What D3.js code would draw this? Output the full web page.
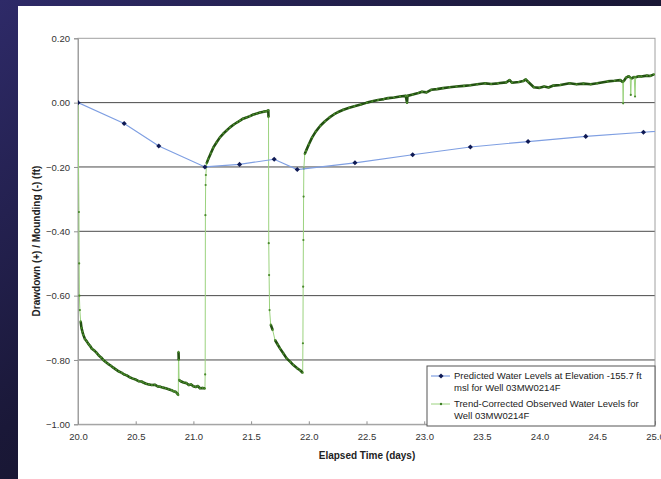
<!DOCTYPE html>
<html><head><meta charset="utf-8">
<script src="https://cdn.jsdelivr.net/npm/d3@7"></script>
<style>html,body{margin:0;padding:0;background:#141320;}svg{display:block;}</style>
</head><body>
<svg id="chart" width="661" height="479"></svg>
<script>
// ---- data ----
const xTicks = [20.0,20.5,21.0,21.5,22.0,22.5,23.0,23.5,24.0,24.5,25.0];
const yTicks = [0.20,0.00,-0.20,-0.40,-0.60,-0.80,-1.00];
const predT = [20.0,20.4,20.7,21.1,21.4,21.7,21.9,22.4,22.9,23.4,23.9,24.4,24.9,25.4];
const predV = [0.000,-0.065,-0.135,-0.200,-0.192,-0.176,-0.208,-0.187,-0.162,-0.138,-0.121,-0.105,-0.092,-0.079];
const obsT = [20.000,20.008,20.010,20.012,20.016,
 20.023,20.030,20.038,20.046,20.060,20.075,20.090,20.104,20.120,20.140,20.162,20.180,20.200,20.219,20.240,20.260,20.285,20.306,20.330,20.355,20.380,20.400,20.422,20.450,20.475,20.500,20.525,20.550,20.566,20.590,20.615,20.640,20.665,20.690,20.711,20.735,20.760,20.785,20.810,20.826,20.845,20.860,20.869,
 20.871,20.873,20.876,
 20.890,20.915,20.940,20.960,20.980,21.000,21.020,21.040,21.057,21.080,21.100,
 21.102,21.104,21.106,21.108,
 21.115,21.129,21.150,21.172,21.200,21.230,21.260,21.290,21.317,21.350,21.380,21.404,21.430,21.460,21.490,21.520,21.550,21.577,21.610,21.630,21.649,
 21.651,21.653,21.656,21.660,
 21.670,21.687,21.707,21.730,21.750,21.780,21.808,21.840,21.866,21.900,21.925,21.947,
 21.949,21.951,21.953,21.955,21.957,
 21.965,21.976,22.000,22.029,22.060,22.100,22.140,22.180,22.220,22.250,22.300,22.350,22.395,22.450,22.504,22.550,22.600,22.650,22.688,22.740,22.790,22.840,22.851,22.855,22.900,22.950,22.981,23.020,23.060,23.110,23.163,23.220,23.280,23.345,23.400,23.460,23.529,23.580,23.640,23.711,23.740,23.760,23.820,23.858,23.880,23.900,23.950,24.000,24.040,24.077,24.120,24.180,24.260,24.320,24.380,24.443,24.500,24.589,24.650,24.699,24.720,24.724,24.728,24.750,24.772,24.785,24.790,24.795,24.820,24.827,24.832,24.860,24.882,24.930,24.960,24.991];
const obsV = [0.000,-0.340,-0.500,-0.600,-0.645,
 -0.680,-0.700,-0.712,-0.722,-0.735,-0.742,-0.750,-0.756,-0.765,-0.770,-0.778,-0.786,-0.792,-0.800,-0.806,-0.812,-0.818,-0.824,-0.830,-0.836,-0.840,-0.845,-0.848,-0.854,-0.858,-0.861,-0.866,-0.867,-0.870,-0.874,-0.876,-0.878,-0.877,-0.882,-0.883,-0.886,-0.888,-0.891,-0.894,-0.897,-0.899,-0.904,-0.909,
 -0.775,-0.800,-0.862,
 -0.866,-0.870,-0.872,-0.878,-0.876,-0.882,-0.884,-0.881,-0.888,-0.887,-0.889,
 -0.845,-0.350,-0.256,-0.225,
 -0.189,-0.175,-0.158,-0.140,-0.124,-0.108,-0.096,-0.086,-0.077,-0.068,-0.061,-0.056,-0.050,-0.046,-0.042,-0.037,-0.034,-0.031,-0.028,-0.027,-0.024,
 -0.045,-0.437,-0.536,-0.645,
 -0.690,-0.707,-0.738,-0.752,-0.764,-0.780,-0.795,-0.806,-0.816,-0.826,-0.832,-0.840,
 -0.748,-0.572,-0.427,-0.292,-0.205,
 -0.160,-0.150,-0.130,-0.108,-0.090,-0.072,-0.058,-0.046,-0.036,-0.030,-0.022,-0.016,-0.011,-0.006,0.000,0.004,0.008,0.011,0.014,0.016,0.019,0.021,0.000,0.021,0.025,0.030,0.034,0.032,0.040,0.042,0.045,0.048,0.050,0.052,0.054,0.057,0.060,0.058,0.060,0.063,0.070,0.062,0.064,0.067,0.072,0.065,0.048,0.046,0.050,0.047,0.053,0.055,0.060,0.057,0.059,0.057,0.060,0.066,0.068,0.070,0.064,-0.002,0.066,0.078,0.082,0.078,0.024,0.075,0.080,0.019,0.079,0.082,0.081,0.084,0.083,0.088];
const legendLines = [
  ["Predicted Water Levels at Elevation -155.7 ft","msl for Well 03MW0214F"],
  ["Trend-Corrected Observed Water Levels for","Well 03MW0214F"]
];

// ---- drawing ----
const svg = d3.select("#chart");
const defs = svg.append("defs");
const bg = defs.append("linearGradient").attr("id","bg").attr("x1","0").attr("y1","0").attr("x2","1").attr("y2","1");
bg.append("stop").attr("offset","0%").attr("stop-color","#2e2a68");
bg.append("stop").attr("offset","45%").attr("stop-color","#1a1838");
bg.append("stop").attr("offset","100%").attr("stop-color","#0e0e14");
svg.append("rect").attr("width",661).attr("height",479).attr("fill","url(#bg)");
svg.append("rect").attr("x",18).attr("y",6).attr("width",643).attr("height",473).attr("fill","#ffffff");

const x = d3.scaleLinear().domain([20,25]).range([78,655]);
const y = d3.scaleLinear().domain([-1,0.2]).range([424.3,38.3]);

defs.append("clipPath").attr("id","plotclip").append("rect")
  .attr("x",x(20)).attr("y",y(0.2)-2).attr("width",x(25)-x(20)).attr("height",y(-1)-y(0.2)+4);

// gridlines
svg.append("g").selectAll("line").data(yTicks.filter(v=>v<0.19 && v>-0.99)).join("line")
  .attr("x1",x(20)).attr("x2",x(25)).attr("y1",d=>y(d)).attr("y2",d=>y(d))
  .attr("stroke","#4a4a4a").attr("stroke-width",1);
// frame
svg.append("rect").attr("x",x(20)).attr("y",y(0.2)).attr("width",x(25)-x(20)).attr("height",y(-1)-y(0.2))
  .attr("fill","none").attr("stroke","#a0a0a0").attr("stroke-width",1);

// axes
const yAxis = d3.axisLeft(y).tickValues(yTicks).tickFormat(d3.format(".2f")).tickSize(4).tickPadding(4);
const gy = svg.append("g").attr("transform",`translate(${x(20)},0)`).call(yAxis);
const xAxis = d3.axisBottom(x).tickValues(xTicks).tickFormat(d3.format(".1f")).tickSize(-3).tickPadding(9);
const gx = svg.append("g").attr("transform",`translate(0,${y(-1)})`).call(xAxis);
[gx,gy].forEach(g=>{
  g.select(".domain").attr("stroke","#a0a0a0");
  g.selectAll(".tick line").attr("stroke","#909090");
  g.selectAll(".tick text").attr("fill","#333").style("font-family","'Liberation Sans',Arial,sans-serif").style("font-size","9.5px");
});
gy.selectAll(".tick text").attr("dy","0.34em");

// titles
svg.append("text").attr("x",367).attr("y",459).attr("text-anchor","middle")
  .style("font-family","'Liberation Sans',Arial,sans-serif").style("font-size","10px").style("font-weight","bold").attr("fill","#222")
  .text("Elapsed Time (days)");
svg.append("text").attr("transform","translate(40,241) rotate(-90)").attr("text-anchor","middle")
  .style("font-family","'Liberation Sans',Arial,sans-serif").style("font-size","10px").style("font-weight","bold").attr("fill","#222")
  .text("Drawdown (+) / Mounding (-) (ft)");

// series
const plot = svg.append("g").attr("clip-path","url(#plotclip)");
const obs = obsT.map((t,i)=>[t,obsV[i]]);
const line = d3.line().x(d=>x(d[0])).y(d=>y(d[1]));
plot.append("path").datum(obs).attr("d",line).attr("fill","none").attr("stroke","#9bd27e").attr("stroke-width",1);
const segs = []; let cur = [obs[0]];
for (let i=1;i<obs.length;i++){
  if (Math.abs(obs[i][1]-obs[i-1][1]) > 0.03){ if(cur.length>1) segs.push(cur); cur=[obs[i]]; }
  else cur.push(obs[i]);
}
if(cur.length>1) segs.push(cur);
plot.append("g").selectAll("path").data(segs).join("path").attr("d",line)
  .attr("fill","none").attr("stroke","#235112").attr("stroke-width",2.6).attr("stroke-linejoin","round");
plot.append("g").selectAll("circle").data(obs).join("circle")
  .attr("cx",d=>x(d[0])).attr("cy",d=>y(d[1])).attr("r",1.1).attr("fill","#4a8a2c");

const pred = predT.map((t,i)=>[t,predV[i]]);
const diamond = d3.symbol(d3.symbolSquare,13);
plot.append("path").datum(pred).attr("d",line).attr("fill","none").attr("stroke","#7f9fe2").attr("stroke-width",1.2);
plot.append("g").selectAll("path").data(pred).join("path")
  .attr("transform",d=>`translate(${x(d[0])},${y(d[1])}) rotate(45)`)
  .attr("d",diamond).attr("fill","#0f1a55");

// legend
const lg = svg.append("g");
lg.append("rect").attr("x",427).attr("y",366).attr("width",228).attr("height",60)
  .attr("fill","#fff").attr("stroke","#555").attr("stroke-width",1);
const rows = [376,404];
lg.append("line").attr("x1",431).attr("x2",450).attr("y1",rows[0]).attr("y2",rows[0]).attr("stroke","#7f9fe2").attr("stroke-width",1.2);
lg.append("path").attr("transform",`translate(441,${rows[0]}) rotate(45)`).attr("d",diamond).attr("fill","#0f1a55");
lg.append("line").attr("x1",431).attr("x2",450).attr("y1",rows[1]).attr("y2",rows[1]).attr("stroke","#9bd27e").attr("stroke-width",1);
lg.append("circle").attr("cx",441).attr("cy",rows[1]).attr("r",1.2).attr("fill","#3d7d24");
legendLines.forEach((ls,i)=>{
  ls.forEach((s,j)=>{
    lg.append("text").attr("x",454).attr("y",rows[i]+3.3+j*11.5)
      .style("font-family","'Liberation Sans',Arial,sans-serif").style("font-size","9.5px").attr("fill","#222")
      .text(s);
  });
});
</script>
</body></html>
